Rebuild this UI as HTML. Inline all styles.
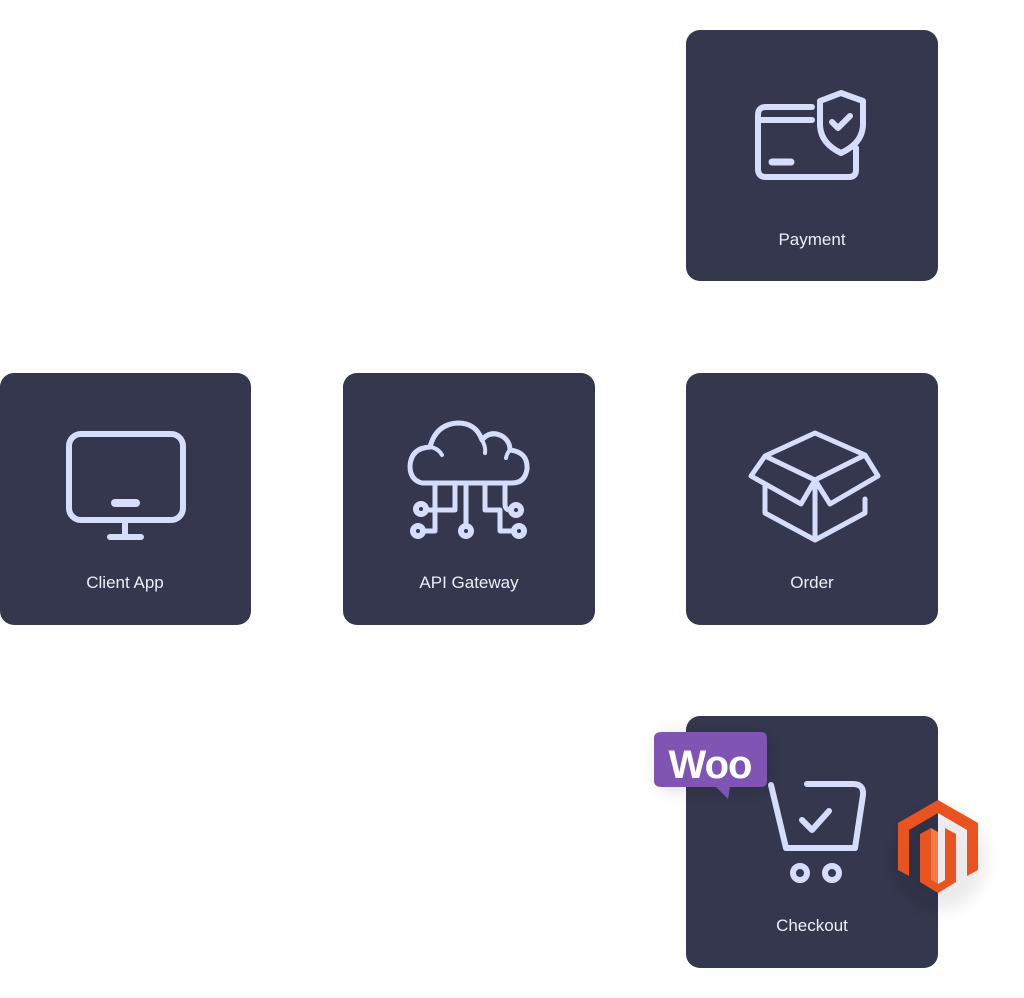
<!DOCTYPE html>
<html><head><meta charset="utf-8"><style>
html,body{margin:0;padding:0;background:#fff;}
svg{display:block}
text{font-family:"Liberation Sans",sans-serif;font-size:17px;fill:#eceef8;text-anchor:middle}
</style></head><body>
<svg width="1024" height="998" viewBox="0 0 1024 998" xmlns="http://www.w3.org/2000/svg">
<defs>
<filter id="sh" x="-50%" y="-50%" width="200%" height="200%"><feGaussianBlur stdDeviation="8"/></filter>
</defs>
<g fill="#34374d">
<rect x="686" y="30" width="252" height="251" rx="14"/>
<rect x="0" y="373" width="251" height="252" rx="14"/>
<rect x="343" y="373" width="252" height="252" rx="14"/>
<rect x="686" y="373" width="252" height="252" rx="14"/>
<rect x="686" y="716" width="252" height="252" rx="14"/>
</g>
<text x="812" y="245">Payment</text>
<text x="125" y="588">Client App</text>
<text x="469" y="588">API Gateway</text>
<text x="812" y="588">Order</text>
<text x="812" y="931">Checkout</text>
<g fill="none" stroke="#d5ddfb" stroke-width="6" stroke-linecap="round" stroke-linejoin="round">
<!-- payment -->
<path d="M812 107 H766 Q758 107 758 115 V169 Q758 177 766 177 H849 Q856 177 856 170 V148"/>
<path d="M758 120 H812"/>
<path d="M772 162 H791" stroke-width="7"/>
<path d="M841 93 L863 101 V124 Q863 143 841 153 Q820 143 820 124 V101 Z"/>
<path d="M832 122 L838 128 L850 116"/>
<!-- monitor -->
<rect x="69" y="434" width="114" height="86" rx="12"/>
<path d="M115 503 H136" stroke-width="8"/>
<path d="M125 520 V536 M110 537 H141"/>
<!-- cloud -->
<path d="M422 483 Q410 480 410 466 Q411 448 430 447 Q436 424 458 423 Q476 423 482 440 Q490 430 502 436 Q510 441 510 450 Q528 452 527 469 Q525 483 512 483 Z" stroke-width="5"/>
<path d="M430 447 Q438 448 442 455 M482 440 Q486 447 485 453 M510 450 Q507 453 506 458" stroke-width="4"/>
<path d="M435 483 V531 H425 M455 483 V510 H428 M466 483 V524 M485 483 V510 H500 V531 H513 M505 483 V504 Q505 510 510 510" stroke-width="5"/>
<circle cx="418" cy="531" r="5"/><circle cx="421" cy="509" r="5"/><circle cx="466" cy="531" r="5"/><circle cx="519" cy="531" r="5"/><circle cx="516" cy="510" r="5"/>
<!-- box -->
<path d="M765 456 L815 433 L865 455 L815 480 Z M765 456 L751 476 L801 504 L815 480 M865 455 L878 476 L830 504 L815 480 M815 480 V540 M765 486 V513 L815 540 L865 513 V499" stroke-width="5"/>
<!-- cart -->
<path d="M771 785 L786 848 H855 L863 795 Q864 784 853 784 H807" stroke-width="6"/>
<path d="M802 820 L812 830 L829 811" stroke-width="6"/>
<circle cx="800" cy="873" r="7"/><circle cx="832" cy="873" r="7"/>
</g>
<!-- woo -->
<rect x="658" y="734" width="110" height="56" rx="8" fill="#000" opacity="0.12" filter="url(#sh)"/>
<path d="M662 732 H761 Q767 732 767 738 V781 Q767 787 761 787 H730 L728 799 L716 787 H662 Q654 787 654 781 V738 Q654 732 662 732 Z" fill="#7f54b3"/>
<text x="710" y="778" style="font-size:40px;font-weight:bold;fill:#fff;letter-spacing:-1px">Woo</text>
<!-- magento -->
<ellipse cx="940" cy="860" rx="46" ry="50" fill="#000" opacity="0.08" filter="url(#sh)"/>
<g fill="#e8531f">
<path d="M938 800 L978 823 V870 L967 876 V830 L938 813 L909 830 V876 L898 870 V823 Z"/>
<path d="M920 834 L931 828 V880 L938 884 L945 880 V828 L956 834 V882 L938 893 L920 882 Z"/>
</g>
<path d="M931 828 L938 832 V884 L931 880 Z" fill="#f47a45"/>
</svg>
</body></html>
